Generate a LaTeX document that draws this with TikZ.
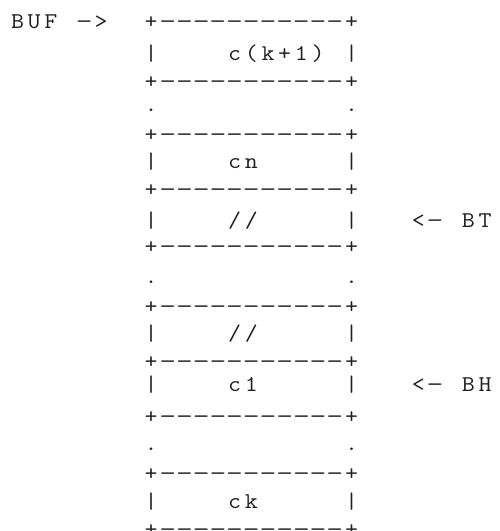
\documentclass[tikz,border=0pt]{standalone}
\usepackage{fontspec}
% fixed character grid for typewriter-style rows
\newlength\asciicw
\setlength\asciicw{16.7pt}
\def\gridglyph#1{\if#1-\scalebox{1.45}[1]{-}\else\scalebox{1.12}[1]{#1}\fi}
\def\gridrow#1{\gridloop#1\relax}
\def\gridloop#1{\ifx#1\relax\else\makebox[\asciicw]{\ifx#1~\else\gridglyph{#1}\fi}\expandafter\gridloop\fi}
\begin{document}
\begin{tikzpicture}[x=1pt,y=1pt,
  asciirow/.style={anchor=base west, inner sep=0pt, outer sep=0pt,
    font=\ttfamily\fontsize{22.5pt}{24pt}\selectfont\addfontfeature{FakeBold=1.4},
    text=black!88}]
  % page frame
  \useasboundingbox (0,0) rectangle (500,-531);
  % column c starts at 9.15 + 16.7 c
  \def\colA{9.15}
  \def\colB{142.75}
  \node[asciirow] (r1)  at (\colA,-28)  {\gridrow{BUF~->~~+-----------+}};
  \node[asciirow] (r2)  at (\colB,-60)  {\gridrow{|~~~~c(k+1)~|}};
  \node[asciirow] (r3)  at (\colB,-88)  {\gridrow{+-----------+}};
  \node[asciirow] (r4)  at (\colB,-111) {\gridrow{.~~~~~~~~~~~.}};
  \node[asciirow] (r5)  at (\colB,-141) {\gridrow{+-----------+}};
  \node[asciirow] (r6)  at (\colB,-168) {\gridrow{|~~~~cn~~~~~|}};
  \node[asciirow] (r7)  at (\colB,-196) {\gridrow{+-----------+}};
  \node[asciirow] (r8)  at (\colB,-227) {\gridrow{|~~~~//~~~~~|~~~<-~BT}};
  \node[asciirow] (r9)  at (\colB,-253) {\gridrow{+-----------+}};
  \node[asciirow] (r10) at (\colB,-283) {\gridrow{.~~~~~~~~~~~.}};
  \node[asciirow] (r11) at (\colB,-313) {\gridrow{+-----------+}};
  \node[asciirow] (r12) at (\colB,-340) {\gridrow{|~~~~//~~~~~|}};
  \node[asciirow] (r13) at (\colB,-368) {\gridrow{+-----------+}};
  \node[asciirow] (r14) at (\colB,-391) {\gridrow{|~~~~c1~~~~~|~~~<-~BH}};
  \node[asciirow] (r15) at (\colB,-423) {\gridrow{+-----------+}};
  \node[asciirow] (r16) at (\colB,-450) {\gridrow{.~~~~~~~~~~~.}};
  \node[asciirow] (r17) at (\colB,-480) {\gridrow{+-----------+}};
  \node[asciirow] (r18) at (\colB,-508) {\gridrow{|~~~~ck~~~~~|}};
  \node[asciirow] (r19) at (\colB,-536) {\gridrow{+-----------+}};
\end{tikzpicture}
\end{document}
